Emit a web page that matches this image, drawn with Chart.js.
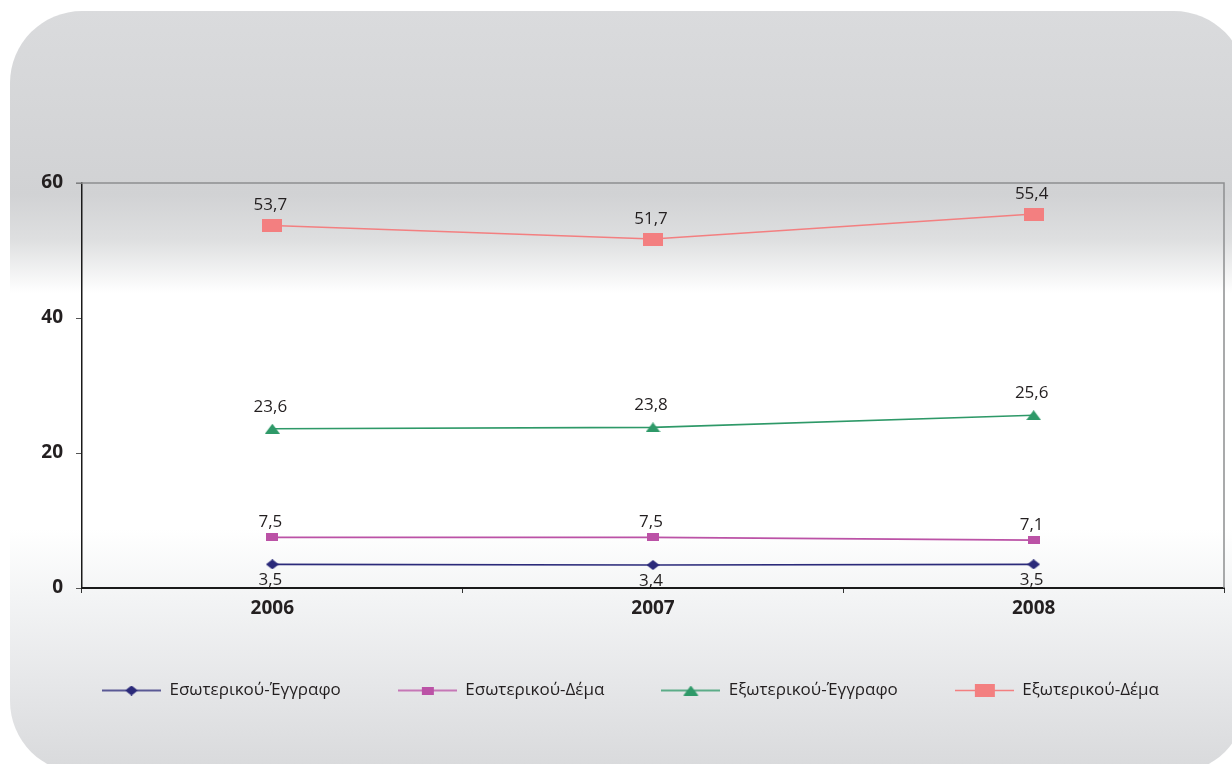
<!DOCTYPE html>
<html>
<head>
<meta charset="utf-8">
<script src="https://cdn.jsdelivr.net/npm/chart.js@4.4.1/dist/chart.umd.min.js"></script>
<style>
  html, body { margin: 0; padding: 0; background: #fff; overflow: hidden; }
  #panel {
    position: absolute; left: 10px; top: 11px; width: 1236px; height: 762px;
    border-radius: 72px;
    background: linear-gradient(to bottom,
      #dadbdd 0%, #d1d2d4 24%, #dedfe0 30%, #ffffff 37%, #ffffff 68%,
      #f3f4f5 77%, #e6e7e9 88%, #d8d9db 100%);
  }
  #wrap { position: absolute; left: 0; top: 0; width: 1232px; height: 764px; }
</style>
</head>
<body>
<div id="panel"></div>
<div id="wrap"><canvas id="lineChart"></canvas></div>
<script>
const years = ["2006", "2007", "2008"];
const seriesNames = ["Εσωτερικού-Έγγραφο", "Εσωτερικού-Δέμα", "Εξωτερικού-Έγγραφο", "Εξωτερικού-Δέμα"];
const esoEggrafo = [3.5, 3.4, 3.5];
const esoDema = [7.5, 7.5, 7.1];
const exoEggrafo = [23.6, 23.8, 25.6];
const exoDema = [53.7, 51.7, 55.4];
const yTicks = [0, 20, 40, 60];

const FONT = "'Open Sans', 'Noto Sans', sans-serif";
const TEXT = "#231f20";

// marker images (the original uses flat, non-square markers)
function makeMarker(shape, w, h, color) {
  const c = document.createElement("canvas");
  c.width = w; c.height = h;
  const g = c.getContext("2d");
  g.fillStyle = color;
  g.beginPath();
  if (shape === "diamond") {
    g.moveTo(w / 2, 0); g.lineTo(w, h / 2); g.lineTo(w / 2, h); g.lineTo(0, h / 2);
  } else if (shape === "triangle") {
    g.moveTo(w / 2, 0); g.lineTo(w, h); g.lineTo(0, h);
  } else {
    g.rect(0, 0, w, h);
  }
  g.closePath();
  g.fill();
  return c;
}

function makeLegendIcon(marker, color, w) {
  const c = document.createElement("canvas");
  const h = Math.max(marker.height, 4);
  c.width = w; c.height = h;
  const g = c.getContext("2d");
  g.strokeStyle = color;
  g.lineWidth = 1.5;
  g.beginPath();
  g.moveTo(0, h / 2); g.lineTo(w, h / 2);
  g.stroke();
  g.drawImage(marker, (w - marker.width) / 2, (h - marker.height) / 2);
  return c;
}

const colors = ["#2b2a7a", "#bb52a6", "#2e9968", "#f37f80"];
const markers = [
  makeMarker("diamond", 13, 10, colors[0]),
  makeMarker("rect", 12, 8, colors[1]),
  makeMarker("triangle", 15, 10, colors[2]),
  makeMarker("rect", 20, 13, colors[3])
];
const legendIcons = markers.map((m, i) => makeLegendIcon(m, colors[i], 59));
const labelOffsets = [16, -15, -22, -20];

const valueLabels = {
  id: "valueLabels",
  afterDatasetsDraw(chart) {
    const ctx = chart.ctx;
    ctx.save();
    ctx.font = "17px " + FONT;
    ctx.fillStyle = TEXT;
    ctx.textAlign = "center";
    ctx.textBaseline = "middle";
    chart.data.datasets.forEach((ds, di) => {
      const meta = chart.getDatasetMeta(di);
      meta.data.forEach((pt, i) => {
        const txt = ds.data[i].toFixed(1).replace(".", ",");
        ctx.fillText(txt, pt.x - 2, pt.y + labelOffsets[di]);
      });
    });
    ctx.restore();
  }
};

const frameLines = {
  id: "frameLines",
  beforeDatasetsDraw(chart) {
    const a = chart.chartArea;
    const ctx = chart.ctx;
    ctx.save();
    ctx.strokeStyle = "#8d8e90";
    ctx.lineWidth = 1.5;
    ctx.beginPath();
    ctx.moveTo(a.left - 6, a.top);
    ctx.lineTo(a.right, a.top);
    ctx.lineTo(a.right, a.bottom);
    ctx.stroke();
    ctx.restore();
  }
};

const ctx = document.getElementById("lineChart").getContext("2d");
new Chart(ctx, {
  type: "line",
  data: {
    labels: years,
    datasets: [esoEggrafo, esoDema, exoEggrafo, exoDema].map((d, i) => ({
      label: seriesNames[i],
      data: d,
      borderColor: colors[i],
      backgroundColor: colors[i],
      borderWidth: 1.6,
      tension: 0,
      pointStyle: markers[i],
      pointRadius: 6,
      pointHoverRadius: 6
    }))
  },
  options: {
    responsive: true,
    maintainAspectRatio: false,
    animation: false,
    events: [],
    layout: { padding: { top: 183, right: 8, left: 37, bottom: 55 } },
    plugins: {
      tooltip: { enabled: false },
      legend: {
        position: "bottom",
        labels: {
          usePointStyle: true,
          pointStyleWidth: 59,
          padding: 57,
          color: TEXT,
          font: { family: FONT, size: 17 },
          generateLabels: chart =>
            Chart.defaults.plugins.legend.labels.generateLabels(chart).map((l, i) => ({
              ...l, pointStyle: legendIcons[i]
            }))
        }
      }
    },
    scales: {
      x: {
        offset: true,
        afterFit: s => { s.height = 37; },
        grid: { offset: true, drawOnChartArea: false, tickLength: 5, color: "#333" },
        border: { color: "#1a1a1a", width: 2 },
        ticks: { color: TEXT, padding: 4, font: { family: FONT, size: 19, weight: "bold" } }
      },
      y: {
        min: 0,
        max: 60,
        afterFit: s => { s.width = 45; },
        afterBuildTicks: s => { s.ticks = yTicks.map(v => ({ value: v })); },
        grid: { drawOnChartArea: false, tickLength: 6, color: "#555" },
        border: { color: "#1a1a1a", width: 1.5 },
        ticks: { color: TEXT, padding: 13, font: { family: FONT, size: 19, weight: "bold" } }
      }
    }
  },
  plugins: [valueLabels, frameLines]
});
</script>
</body>
</html>
